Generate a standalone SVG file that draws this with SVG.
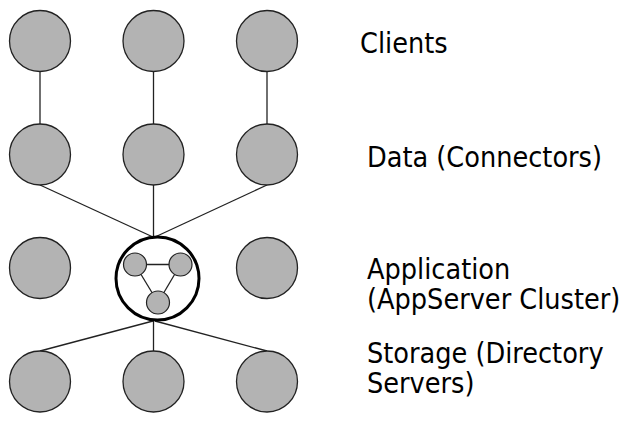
<svg xmlns="http://www.w3.org/2000/svg" width="634" height="429" viewBox="0 0 634 429">
  <style>
    .node { fill: #b3b3b3; stroke: #222; stroke-width: 1.3; }
    .small { fill: #b3b3b3; stroke: #222; stroke-width: 1.2; }
    .ring { fill: #fff; stroke: #000; stroke-width: 3; }
    .edge { stroke: #222; stroke-width: 1.3; fill: none; }
    .label { font-family: "DejaVu Sans Condensed", "DejaVu Sans", Verdana, sans-serif; font-stretch: condensed; font-size: 28.5px; fill: #000; }
  </style>
  <rect width="634" height="429" fill="#fff"/>

  <!-- connectors -->
  <g id="connectors">
    <line class="edge" x1="40" y1="72" x2="40" y2="124"/>
    <line class="edge" x1="153.5" y1="72" x2="153.5" y2="124"/>
    <line class="edge" x1="267" y1="72" x2="267" y2="124"/>
    <line class="edge" x1="40" y1="185" x2="153" y2="237"/>
    <line class="edge" x1="153.5" y1="185" x2="153.5" y2="237"/>
    <line class="edge" x1="267" y1="185" x2="155" y2="237"/>
    <line class="edge" x1="153" y1="321" x2="40" y2="351"/>
    <line class="edge" x1="153.5" y1="321" x2="153.5" y2="351"/>
    <line class="edge" x1="155" y1="321" x2="267" y2="351"/>
  </g>

  <!-- clients -->
  <g id="client-1"><circle class="node" cx="40" cy="41" r="30.5"/></g>
  <g id="client-2"><circle class="node" cx="153.5" cy="41" r="30.5"/></g>
  <g id="client-3"><circle class="node" cx="267" cy="41" r="30.5"/></g>

  <!-- data connectors -->
  <g id="data-1"><circle class="node" cx="40" cy="154.5" r="30.5"/></g>
  <g id="data-2"><circle class="node" cx="153.5" cy="154.5" r="30.5"/></g>
  <g id="data-3"><circle class="node" cx="267" cy="154.5" r="30.5"/></g>

  <!-- application tier -->
  <g id="app-1"><circle class="node" cx="40" cy="268" r="30.5"/></g>
  <g id="app-cluster">
    <circle class="ring" cx="157.5" cy="278.5" r="41.5"/>
    <line class="edge" x1="135" y1="264.5" x2="180.5" y2="264.5"/>
    <line class="edge" x1="135" y1="264.5" x2="158" y2="302.5"/>
    <line class="edge" x1="180.5" y1="264.5" x2="158" y2="302.5"/>
    <circle class="small" cx="135" cy="264.5" r="11.5"/>
    <circle class="small" cx="180.5" cy="264.5" r="11.5"/>
    <circle class="small" cx="158" cy="302.5" r="11.5"/>
  </g>
  <g id="app-3"><circle class="node" cx="267" cy="268" r="30.5"/></g>

  <!-- storage -->
  <g id="storage-1"><circle class="node" cx="40" cy="381.5" r="30.5"/></g>
  <g id="storage-2"><circle class="node" cx="153.5" cy="381.5" r="30.5"/></g>
  <g id="storage-3"><circle class="node" cx="267" cy="381.5" r="30.5"/></g>

  <!-- tier labels -->
  <g id="labels">
    <text class="label" x="360" y="53">Clients</text>
    <text class="label" x="367" y="167">Data (Connectors)</text>
    <text class="label" x="367" y="279">Application</text>
    <text class="label" x="367" y="309">(AppServer Cluster)</text>
    <text class="label" x="367" y="363">Storage (Directory</text>
    <text class="label" x="367" y="393">Servers)</text>
  </g>
</svg>
